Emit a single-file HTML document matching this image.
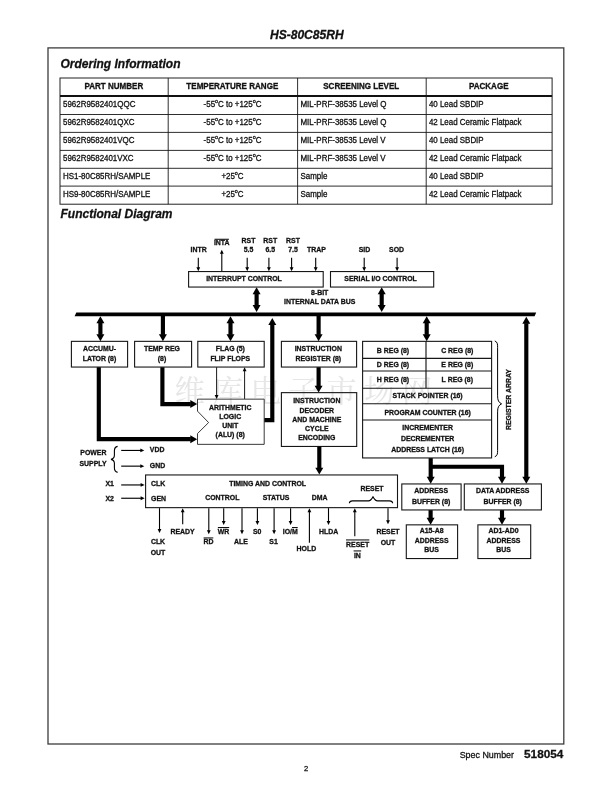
<!DOCTYPE html>
<html lang="en"><head><meta charset="utf-8"><title>HS-80C85RH</title>
<style>html,body{margin:0;padding:0;background:#fff}body{width:612px;height:792px;overflow:hidden}svg{display:block;filter:grayscale(1)}text{font-family:'Liberation Sans', sans-serif;fill:#111;stroke:#111;stroke-width:0.28px}</style>
</head><body>
<svg width="612" height="792" viewBox="0 0 612 792">
<rect width="612" height="792" fill="#fff"/>
<text x="174.6" y="402.2" font-size="30.5" text-anchor="start" letter-spacing="7.4" style="font-family:'Noto Serif CJK SC','Noto Sans CJK SC',serif;fill:#e6e6e6;stroke:none;font-weight:400">维库电子市场网</text>
<text transform="translate(306.8 38.8) scale(1 1.0)" font-size="12.05" font-weight="bold" font-style="italic" text-anchor="middle">HS-80C85RH</text>
<rect x="48.0" y="47.9" width="515.80" height="696.10" fill="none" stroke="#3c3c3c" stroke-width="1.3"/>
<text transform="translate(60.5 68.4) scale(1 1.0)" font-size="12.0" font-weight="bold" font-style="italic" text-anchor="start">Ordering Information</text>
<text transform="translate(60.5 217.6) scale(1 1.0)" font-size="12.0" font-weight="bold" font-style="italic" text-anchor="start">Functional Diagram</text>
<rect x="60.0" y="78.0" width="492.10" height="126.20" fill="none" stroke="#222" stroke-width="1.0"/>
<line x1="168.2" y1="78.0" x2="168.2" y2="204.2" stroke="#161616" stroke-width="0.9"/>
<line x1="297.6" y1="78.0" x2="297.6" y2="204.2" stroke="#161616" stroke-width="0.9"/>
<line x1="426.2" y1="78.0" x2="426.2" y2="204.2" stroke="#161616" stroke-width="0.9"/>
<line x1="60.0" y1="95.9" x2="552.1" y2="95.9" stroke="#111" stroke-width="2.0"/>
<line x1="60.0" y1="114.5" x2="552.1" y2="114.5" stroke="#161616" stroke-width="0.9"/>
<line x1="60.0" y1="132.4" x2="552.1" y2="132.4" stroke="#161616" stroke-width="0.9"/>
<line x1="60.0" y1="150.4" x2="552.1" y2="150.4" stroke="#161616" stroke-width="0.9"/>
<line x1="60.0" y1="168.3" x2="552.1" y2="168.3" stroke="#161616" stroke-width="0.9"/>
<line x1="60.0" y1="186.1" x2="552.1" y2="186.1" stroke="#161616" stroke-width="0.9"/>
<text transform="translate(113.8 89.1) scale(1 1.07)" font-size="8.05" font-weight="bold" font-style="normal" text-anchor="middle">PART NUMBER</text>
<text transform="translate(232.3 89.1) scale(1 1.07)" font-size="8.05" font-weight="bold" font-style="normal" text-anchor="middle">TEMPERATURE RANGE</text>
<text transform="translate(361.2 89.1) scale(1 1.07)" font-size="8.05" font-weight="bold" font-style="normal" text-anchor="middle">SCREENING LEVEL</text>
<text transform="translate(488.7 89.1) scale(1 1.07)" font-size="8.05" font-weight="bold" font-style="normal" text-anchor="middle">PACKAGE</text>
<text transform="translate(63.0 106.7) scale(1 1.07)" font-size="7.95" font-weight="normal" font-style="normal" text-anchor="start" stroke-width="0.1">5962R9582401QQC</text>
<text transform="translate(232.5 106.7) scale(1 1.07)" font-size="7.95" font-weight="normal" font-style="normal" text-anchor="middle" stroke-width="0.1">-55<tspan font-size="5.4" dy="-3.2">o</tspan><tspan dy="3.2">C to +125</tspan><tspan font-size="5.4" dy="-3.2">o</tspan><tspan dy="3.2">C</tspan></text>
<text transform="translate(300.5 106.7) scale(1 1.07)" font-size="7.95" font-weight="normal" font-style="normal" text-anchor="start" stroke-width="0.1">MIL-PRF-38535 Level Q</text>
<text transform="translate(428.9 106.7) scale(1 1.07)" font-size="7.95" font-weight="normal" font-style="normal" text-anchor="start" stroke-width="0.1">40 Lead SBDIP</text>
<text transform="translate(63.0 124.8) scale(1 1.07)" font-size="7.95" font-weight="normal" font-style="normal" text-anchor="start" stroke-width="0.1">5962R9582401QXC</text>
<text transform="translate(232.5 124.8) scale(1 1.07)" font-size="7.95" font-weight="normal" font-style="normal" text-anchor="middle" stroke-width="0.1">-55<tspan font-size="5.4" dy="-3.2">o</tspan><tspan dy="3.2">C to +125</tspan><tspan font-size="5.4" dy="-3.2">o</tspan><tspan dy="3.2">C</tspan></text>
<text transform="translate(300.5 124.8) scale(1 1.07)" font-size="7.95" font-weight="normal" font-style="normal" text-anchor="start" stroke-width="0.1">MIL-PRF-38535 Level Q</text>
<text transform="translate(428.9 124.8) scale(1 1.07)" font-size="7.95" font-weight="normal" font-style="normal" text-anchor="start" stroke-width="0.1">42 Lead Ceramic Flatpack</text>
<text transform="translate(63.0 142.7) scale(1 1.07)" font-size="7.95" font-weight="normal" font-style="normal" text-anchor="start" stroke-width="0.1">5962R9582401VQC</text>
<text transform="translate(232.5 142.7) scale(1 1.07)" font-size="7.95" font-weight="normal" font-style="normal" text-anchor="middle" stroke-width="0.1">-55<tspan font-size="5.4" dy="-3.2">o</tspan><tspan dy="3.2">C to +125</tspan><tspan font-size="5.4" dy="-3.2">o</tspan><tspan dy="3.2">C</tspan></text>
<text transform="translate(300.5 142.7) scale(1 1.07)" font-size="7.95" font-weight="normal" font-style="normal" text-anchor="start" stroke-width="0.1">MIL-PRF-38535 Level V</text>
<text transform="translate(428.9 142.7) scale(1 1.07)" font-size="7.95" font-weight="normal" font-style="normal" text-anchor="start" stroke-width="0.1">40 Lead SBDIP</text>
<text transform="translate(63.0 160.7) scale(1 1.07)" font-size="7.95" font-weight="normal" font-style="normal" text-anchor="start" stroke-width="0.1">5962R9582401VXC</text>
<text transform="translate(232.5 160.7) scale(1 1.07)" font-size="7.95" font-weight="normal" font-style="normal" text-anchor="middle" stroke-width="0.1">-55<tspan font-size="5.4" dy="-3.2">o</tspan><tspan dy="3.2">C to +125</tspan><tspan font-size="5.4" dy="-3.2">o</tspan><tspan dy="3.2">C</tspan></text>
<text transform="translate(300.5 160.7) scale(1 1.07)" font-size="7.95" font-weight="normal" font-style="normal" text-anchor="start" stroke-width="0.1">MIL-PRF-38535 Level V</text>
<text transform="translate(428.9 160.7) scale(1 1.07)" font-size="7.95" font-weight="normal" font-style="normal" text-anchor="start" stroke-width="0.1">42 Lead Ceramic Flatpack</text>
<text transform="translate(63.0 178.5) scale(1 1.07)" font-size="7.95" font-weight="normal" font-style="normal" text-anchor="start" stroke-width="0.1">HS1-80C85RH/SAMPLE</text>
<text transform="translate(232.5 178.5) scale(1 1.07)" font-size="7.95" font-weight="normal" font-style="normal" text-anchor="middle" stroke-width="0.1">+25<tspan font-size="5.4" dy="-3.2">o</tspan><tspan dy="3.2">C</tspan></text>
<text transform="translate(300.5 178.5) scale(1 1.07)" font-size="7.95" font-weight="normal" font-style="normal" text-anchor="start" stroke-width="0.1">Sample</text>
<text transform="translate(428.9 178.5) scale(1 1.07)" font-size="7.95" font-weight="normal" font-style="normal" text-anchor="start" stroke-width="0.1">40 Lead SBDIP</text>
<text transform="translate(63.0 196.6) scale(1 1.07)" font-size="7.95" font-weight="normal" font-style="normal" text-anchor="start" stroke-width="0.1">HS9-80C85RH/SAMPLE</text>
<text transform="translate(232.5 196.6) scale(1 1.07)" font-size="7.95" font-weight="normal" font-style="normal" text-anchor="middle" stroke-width="0.1">+25<tspan font-size="5.4" dy="-3.2">o</tspan><tspan dy="3.2">C</tspan></text>
<text transform="translate(300.5 196.6) scale(1 1.07)" font-size="7.95" font-weight="normal" font-style="normal" text-anchor="start" stroke-width="0.1">Sample</text>
<text transform="translate(428.9 196.6) scale(1 1.07)" font-size="7.95" font-weight="normal" font-style="normal" text-anchor="start" stroke-width="0.1">42 Lead Ceramic Flatpack</text>
<g transform="translate(0 0.35)">
<text transform="translate(198.6 251.9) scale(1 1.07)" font-size="6.93" font-weight="bold" font-style="normal" text-anchor="middle">INTR</text>
<text transform="translate(221.7 244.8) scale(1 1.07)" font-size="6.93" font-weight="bold" font-style="normal" text-anchor="middle">INTA</text>
<line x1="214.6" y1="238.9" x2="228.9" y2="238.9" stroke="#000" stroke-width="1.0"/>
<text transform="translate(248.5 242.7) scale(1 1.07)" font-size="6.93" font-weight="bold" font-style="normal" text-anchor="middle">RST</text>
<text transform="translate(270.2 242.7) scale(1 1.07)" font-size="6.93" font-weight="bold" font-style="normal" text-anchor="middle">RST</text>
<text transform="translate(293.0 242.7) scale(1 1.07)" font-size="6.93" font-weight="bold" font-style="normal" text-anchor="middle">RST</text>
<text transform="translate(248.5 251.9) scale(1 1.07)" font-size="6.93" font-weight="bold" font-style="normal" text-anchor="middle">5.5</text>
<text transform="translate(270.2 251.9) scale(1 1.07)" font-size="6.93" font-weight="bold" font-style="normal" text-anchor="middle">6.5</text>
<text transform="translate(293.0 251.9) scale(1 1.07)" font-size="6.93" font-weight="bold" font-style="normal" text-anchor="middle">7.5</text>
<text transform="translate(316.5 251.9) scale(1 1.07)" font-size="6.93" font-weight="bold" font-style="normal" text-anchor="middle">TRAP</text>
<text transform="translate(364.4 251.9) scale(1 1.07)" font-size="6.93" font-weight="bold" font-style="normal" text-anchor="middle">SID</text>
<text transform="translate(396.6 251.9) scale(1 1.07)" font-size="6.93" font-weight="bold" font-style="normal" text-anchor="middle">SOD</text>
<line x1="198.3" y1="257.4" x2="198.3" y2="268.6" stroke="#000" stroke-width="1.1"/>
<polygon points="198.30,271.00 196.40,267.00 200.20,267.00" fill="#000"/>
<line x1="247.2" y1="257.4" x2="247.2" y2="268.6" stroke="#000" stroke-width="1.1"/>
<polygon points="247.20,271.00 245.30,267.00 249.10,267.00" fill="#000"/>
<line x1="268.9" y1="257.4" x2="268.9" y2="268.6" stroke="#000" stroke-width="1.1"/>
<polygon points="268.90,271.00 267.00,267.00 270.80,267.00" fill="#000"/>
<line x1="291.6" y1="257.4" x2="291.6" y2="268.6" stroke="#000" stroke-width="1.1"/>
<polygon points="291.60,271.00 289.70,267.00 293.50,267.00" fill="#000"/>
<line x1="315.7" y1="257.4" x2="315.7" y2="268.6" stroke="#000" stroke-width="1.1"/>
<polygon points="315.70,271.00 313.80,267.00 317.60,267.00" fill="#000"/>
<line x1="364.2" y1="257.4" x2="364.2" y2="268.6" stroke="#000" stroke-width="1.1"/>
<polygon points="364.20,271.00 362.30,267.00 366.10,267.00" fill="#000"/>
<line x1="397.1" y1="257.4" x2="397.1" y2="268.6" stroke="#000" stroke-width="1.1"/>
<polygon points="397.10,271.00 395.20,267.00 399.00,267.00" fill="#000"/>
<line x1="221.8" y1="271.0" x2="221.8" y2="251.70000000000002" stroke="#000" stroke-width="1.1"/>
<polygon points="221.80,249.30 219.90,253.30 223.70,253.30" fill="#000"/>
<rect x="188.6" y="271.2" width="134.60" height="15.50" fill="none" stroke="#161616" stroke-width="1.1"/>
<text transform="translate(244.0 280.6) scale(1 1.07)" font-size="6.93" font-weight="bold" font-style="normal" text-anchor="middle">INTERRUPT CONTROL</text>
<rect x="330.5" y="271.2" width="103.20" height="15.50" fill="none" stroke="#161616" stroke-width="1.1"/>
<text transform="translate(380.5 280.6) scale(1 1.07)" font-size="6.93" font-weight="bold" font-style="normal" text-anchor="middle">SERIAL I/O CONTROL</text>
<text transform="translate(319.7 294.6) scale(1 1.07)" font-size="6.93" font-weight="bold" font-style="normal" text-anchor="middle">8-BIT</text>
<text transform="translate(319.7 303.7) scale(1 1.07)" font-size="6.93" font-weight="bold" font-style="normal" text-anchor="middle">INTERNAL DATA BUS</text>
<polygon points="76.3,312.1 536.2,312.1 534.6,315.8 74.6,315.8" fill="#000"/>
<rect x="254.53" y="293.30" width="4.15" height="11.90" fill="#000"/>
<polygon points="256.60,286.90 252.60,293.80 260.60,293.80" fill="#000"/>
<polygon points="256.60,311.60 252.60,304.70 260.60,304.70" fill="#000"/>
<rect x="379.62" y="293.30" width="4.15" height="11.90" fill="#000"/>
<polygon points="381.70,286.90 377.70,293.80 385.70,293.80" fill="#000"/>
<polygon points="381.70,311.60 377.70,304.70 385.70,304.70" fill="#000"/>
<rect x="98.33" y="322.30" width="4.15" height="12.20" fill="#000"/>
<polygon points="100.40,315.90 96.40,322.80 104.40,322.80" fill="#000"/>
<polygon points="100.40,340.90 96.40,334.00 104.40,334.00" fill="#000"/>
<rect x="160.83" y="315.00" width="4.15" height="19.50" fill="#000"/>
<polygon points="162.90,340.90 158.90,334.00 166.90,334.00" fill="#000"/>
<rect x="228.43" y="322.30" width="4.15" height="12.20" fill="#000"/>
<polygon points="230.50,315.90 226.50,322.80 234.50,322.80" fill="#000"/>
<polygon points="230.50,340.90 226.50,334.00 234.50,334.00" fill="#000"/>
<rect x="316.53" y="315.00" width="4.15" height="19.50" fill="#000"/>
<polygon points="318.60,340.90 314.60,334.00 322.60,334.00" fill="#000"/>
<rect x="424.62" y="322.30" width="4.15" height="12.20" fill="#000"/>
<polygon points="426.70,315.90 422.70,322.80 430.70,322.80" fill="#000"/>
<polygon points="426.70,340.90 422.70,334.00 430.70,334.00" fill="#000"/>
<rect x="71.4" y="341.0" width="56.20" height="25.70" fill="none" stroke="#161616" stroke-width="1.1"/>
<text transform="translate(99.5 351.0) scale(1 1.07)" font-size="6.93" font-weight="bold" font-style="normal" text-anchor="middle">ACCUMU-</text>
<text transform="translate(99.5 360.7) scale(1 1.07)" font-size="6.93" font-weight="bold" font-style="normal" text-anchor="middle">LATOR (8)</text>
<rect x="134.6" y="341.0" width="57.00" height="25.70" fill="none" stroke="#161616" stroke-width="1.1"/>
<text transform="translate(162.0 351.0) scale(1 1.07)" font-size="6.93" font-weight="bold" font-style="normal" text-anchor="middle">TEMP REG</text>
<text transform="translate(162.0 360.7) scale(1 1.07)" font-size="6.93" font-weight="bold" font-style="normal" text-anchor="middle">(8)</text>
<rect x="197.8" y="341.0" width="66.40" height="25.70" fill="none" stroke="#161616" stroke-width="1.1"/>
<text transform="translate(230.3 351.0) scale(1 1.07)" font-size="6.93" font-weight="bold" font-style="normal" text-anchor="middle">FLAG (5)</text>
<text transform="translate(230.3 360.7) scale(1 1.07)" font-size="6.93" font-weight="bold" font-style="normal" text-anchor="middle">FLIP FLOPS</text>
<rect x="281.4" y="341.0" width="75.20" height="25.70" fill="none" stroke="#161616" stroke-width="1.1"/>
<text transform="translate(318.3 351.0) scale(1 1.07)" font-size="6.93" font-weight="bold" font-style="normal" text-anchor="middle">INSTRUCTION</text>
<text transform="translate(318.3 360.7) scale(1 1.07)" font-size="6.93" font-weight="bold" font-style="normal" text-anchor="middle">REGISTER (8)</text>
<rect x="362.6" y="341.0" width="129.00" height="116.60" fill="none" stroke="#161616" stroke-width="1.1"/>
<line x1="362.6" y1="358.0" x2="491.6" y2="358.0" stroke="#161616" stroke-width="1.15"/>
<line x1="362.6" y1="370.6" x2="491.6" y2="370.6" stroke="#161616" stroke-width="1.15"/>
<line x1="362.6" y1="387.9" x2="491.6" y2="387.9" stroke="#161616" stroke-width="1.15"/>
<line x1="362.6" y1="403.4" x2="491.6" y2="403.4" stroke="#161616" stroke-width="1.15"/>
<line x1="362.6" y1="419.6" x2="491.6" y2="419.6" stroke="#161616" stroke-width="1.15"/>
<line x1="426.0" y1="341.0" x2="426.0" y2="387.9" stroke="#161616" stroke-width="1.15"/>
<text transform="translate(393.0 352.3) scale(1 1.07)" font-size="6.93" font-weight="bold" font-style="normal" text-anchor="middle">B REG (8)</text>
<text transform="translate(457.3 352.3) scale(1 1.07)" font-size="6.93" font-weight="bold" font-style="normal" text-anchor="middle">C REG (8)</text>
<text transform="translate(393.0 366.4) scale(1 1.07)" font-size="6.93" font-weight="bold" font-style="normal" text-anchor="middle">D REG (8)</text>
<text transform="translate(457.3 366.4) scale(1 1.07)" font-size="6.93" font-weight="bold" font-style="normal" text-anchor="middle">E REG (8)</text>
<text transform="translate(393.0 381.3) scale(1 1.07)" font-size="6.93" font-weight="bold" font-style="normal" text-anchor="middle">H REG (8)</text>
<text transform="translate(457.3 381.3) scale(1 1.07)" font-size="6.93" font-weight="bold" font-style="normal" text-anchor="middle">L REG (8)</text>
<text transform="translate(427.6 397.8) scale(1 1.07)" font-size="6.93" font-weight="bold" font-style="normal" text-anchor="middle">STACK POINTER (16)</text>
<text transform="translate(427.6 414.8) scale(1 1.07)" font-size="6.93" font-weight="bold" font-style="normal" text-anchor="middle">PROGRAM COUNTER (16)</text>
<text transform="translate(427.6 429.7) scale(1 1.07)" font-size="6.93" font-weight="bold" font-style="normal" text-anchor="middle">INCREMENTER</text>
<text transform="translate(427.6 440.7) scale(1 1.07)" font-size="6.93" font-weight="bold" font-style="normal" text-anchor="middle">DECREMENTER</text>
<text transform="translate(427.6 451.9) scale(1 1.07)" font-size="6.93" font-weight="bold" font-style="normal" text-anchor="middle">ADDRESS LATCH (16)</text>
<path d="M494.8,340.6 C497.6,341.6 497.6,344 497.6,347 L497.6,395.5 C497.6,400 498.6,402.1 501.6,403.5 C498.6,404.9 497.6,407 497.6,411.5 L497.6,450 C497.6,453 497.6,455.4 494.8,456.4" fill="none" stroke="#000" stroke-width="1.0"/>
<text transform="translate(511.3,399.2) rotate(-90) scale(1 1.07)" font-size="6.93" font-weight="bold" text-anchor="middle">REGISTER ARRAY</text>
<line x1="216.6" y1="366.9" x2="216.6" y2="396.20000000000005" stroke="#000" stroke-width="0.9"/>
<polygon points="216.60,398.60 214.70,394.60 218.50,394.60" fill="#000"/>
<line x1="244.6" y1="398.6" x2="244.6" y2="369.29999999999995" stroke="#000" stroke-width="0.9"/>
<polygon points="244.60,366.90 242.70,370.90 246.50,370.90" fill="#000"/>
<path d="M197.5,398.8 L264.2,398.8 L264.2,444 L197.5,444 L197.5,433.2 L208.6,422.2 L197.5,410.8 Z" fill="none" stroke="#222" stroke-width="0.9"/>
<text transform="translate(230.2 410.0) scale(1 1.07)" font-size="6.93" font-weight="bold" font-style="normal" text-anchor="middle">ARITHMETIC</text>
<text transform="translate(230.2 418.8) scale(1 1.07)" font-size="6.93" font-weight="bold" font-style="normal" text-anchor="middle">LOGIC</text>
<text transform="translate(230.2 427.3) scale(1 1.07)" font-size="6.93" font-weight="bold" font-style="normal" text-anchor="middle">UNIT</text>
<text transform="translate(230.2 436.9) scale(1 1.07)" font-size="6.93" font-weight="bold" font-style="normal" text-anchor="middle">(ALU) (8)</text>
<polygon points="197.20,403.70 190.30,399.70 190.30,407.70" fill="#000"/>
<polyline points="162.40,366.90 162.40,403.70 190.80,403.70" fill="none" stroke="#000" stroke-width="4.15" stroke-linejoin="miter"/>
<polygon points="197.20,438.80 190.30,434.80 190.30,442.80" fill="#000"/>
<polyline points="98.80,366.90 98.80,438.80 190.80,438.80" fill="none" stroke="#000" stroke-width="4.15" stroke-linejoin="miter"/>
<polygon points="272.30,317.70 268.30,324.60 276.30,324.60" fill="#000"/>
<polyline points="264.40,419.70 272.30,419.70 272.30,324.10" fill="none" stroke="#000" stroke-width="4.15" stroke-linejoin="miter"/>
<rect x="316.53" y="366.90" width="4.15" height="18.90" fill="#000"/>
<polygon points="318.60,392.20 314.60,385.30 322.60,385.30" fill="#000"/>
<rect x="281.4" y="392.3" width="75.30" height="53.80" fill="none" stroke="#161616" stroke-width="1.1"/>
<text transform="translate(316.8 402.2) scale(1 1.07)" font-size="6.93" font-weight="bold" font-style="normal" text-anchor="middle">INSTRUCTION</text>
<text transform="translate(316.8 412.7) scale(1 1.07)" font-size="6.93" font-weight="bold" font-style="normal" text-anchor="middle">DECODER</text>
<text transform="translate(316.8 421.8) scale(1 1.07)" font-size="6.93" font-weight="bold" font-style="normal" text-anchor="middle">AND MACHINE</text>
<text transform="translate(316.8 431.0) scale(1 1.07)" font-size="6.93" font-weight="bold" font-style="normal" text-anchor="middle">CYCLE</text>
<text transform="translate(316.8 440.1) scale(1 1.07)" font-size="6.93" font-weight="bold" font-style="normal" text-anchor="middle">ENCODING</text>
<rect x="317.23" y="446.30" width="4.15" height="21.50" fill="#000"/>
<polygon points="319.30,474.20 315.30,467.30 323.30,467.30" fill="#000"/>
<text transform="translate(93.4 454.5) scale(1 1.07)" font-size="6.93" font-weight="bold" font-style="normal" text-anchor="middle">POWER</text>
<text transform="translate(93.0 465.8) scale(1 1.07)" font-size="6.93" font-weight="bold" font-style="normal" text-anchor="middle">SUPPLY</text>
<path d="M117.6,446 C114.4,446.6 114.4,448.4 114.4,450.5 L114.4,455 C114.4,457.4 113.6,458.4 111,459 C113.6,459.6 114.4,460.6 114.4,463 L114.4,467.5 C114.4,469.6 114.4,471.4 117.6,472" fill="none" stroke="#000" stroke-width="1.1"/>
<line x1="121.2" y1="450.1" x2="141.9" y2="450.1" stroke="#000" stroke-width="1.15"/>
<polygon points="144.30,450.10 140.30,448.20 140.30,452.00" fill="#000"/>
<line x1="121.2" y1="465.8" x2="141.9" y2="465.8" stroke="#000" stroke-width="1.15"/>
<polygon points="144.30,465.80 140.30,463.90 140.30,467.70" fill="#000"/>
<text transform="translate(149.8 452.0) scale(1 1.07)" font-size="6.93" font-weight="bold" font-style="normal" text-anchor="start">VDD</text>
<text transform="translate(149.8 467.6) scale(1 1.07)" font-size="6.93" font-weight="bold" font-style="normal" text-anchor="start">GND</text>
<rect x="145.6" y="474.6" width="251.90" height="32.70" fill="none" stroke="#161616" stroke-width="1.1"/>
<text transform="translate(105.4 485.6) scale(1 1.07)" font-size="6.93" font-weight="bold" font-style="normal" text-anchor="start">X1</text>
<text transform="translate(105.4 500.5) scale(1 1.07)" font-size="6.93" font-weight="bold" font-style="normal" text-anchor="start">X2</text>
<line x1="121.2" y1="484.6" x2="142.2" y2="484.6" stroke="#000" stroke-width="1.15"/>
<polygon points="144.60,484.60 140.60,482.70 140.60,486.50" fill="#000"/>
<line x1="121.2" y1="497.9" x2="142.2" y2="497.9" stroke="#000" stroke-width="1.15"/>
<polygon points="144.60,497.90 140.60,496.00 140.60,499.80" fill="#000"/>
<text transform="translate(151.1 485.6) scale(1 1.07)" font-size="6.93" font-weight="bold" font-style="normal" text-anchor="start">CLK</text>
<text transform="translate(151.1 500.5) scale(1 1.07)" font-size="6.93" font-weight="bold" font-style="normal" text-anchor="start">GEN</text>
<text transform="translate(267.6 485.6) scale(1 1.07)" font-size="6.93" font-weight="bold" font-style="normal" text-anchor="middle">TIMING AND CONTROL</text>
<text transform="translate(222.3 499.7) scale(1 1.07)" font-size="6.93" font-weight="bold" font-style="normal" text-anchor="middle">CONTROL</text>
<text transform="translate(276.0 499.7) scale(1 1.07)" font-size="6.93" font-weight="bold" font-style="normal" text-anchor="middle">STATUS</text>
<text transform="translate(319.6 499.7) scale(1 1.07)" font-size="6.93" font-weight="bold" font-style="normal" text-anchor="middle">DMA</text>
<text transform="translate(372.0 490.6) scale(1 1.07)" font-size="6.93" font-weight="bold" font-style="normal" text-anchor="middle">RESET</text>
<path d="M349.3,502.9 C349.5,500.8 350.4,500.5 352.5,500.5 L368.6,500.5 C370.2,500.5 371.2,499.6 373,496.5 C374.8,499.6 375.8,500.5 377.4,500.5 L389.5,500.5 C391.6,500.5 392.5,500.8 392.7,502.9" fill="none" stroke="#000" stroke-width="1.1"/>
<line x1="159.5" y1="507.8" x2="159.5" y2="530.3000000000001" stroke="#000" stroke-width="1.1"/>
<polygon points="159.50,532.70 157.60,528.70 161.40,528.70" fill="#000"/>
<line x1="182.7" y1="524.0" x2="182.7" y2="510.4" stroke="#000" stroke-width="1.1"/>
<polygon points="182.70,508.00 180.80,512.00 184.60,512.00" fill="#000"/>
<line x1="208.8" y1="507.8" x2="208.8" y2="531.6" stroke="#000" stroke-width="1.1"/>
<polygon points="208.80,534.00 206.90,530.00 210.70,530.00" fill="#000"/>
<line x1="223.7" y1="507.8" x2="223.7" y2="522.2" stroke="#000" stroke-width="1.1"/>
<polygon points="223.70,524.60 221.80,520.60 225.60,520.60" fill="#000"/>
<line x1="242.0" y1="507.8" x2="242.0" y2="531.6" stroke="#000" stroke-width="1.1"/>
<polygon points="242.00,534.00 240.10,530.00 243.90,530.00" fill="#000"/>
<line x1="257.4" y1="507.8" x2="257.4" y2="522.2" stroke="#000" stroke-width="1.1"/>
<polygon points="257.40,524.60 255.50,520.60 259.30,520.60" fill="#000"/>
<line x1="274.1" y1="507.8" x2="274.1" y2="531.6" stroke="#000" stroke-width="1.1"/>
<polygon points="274.10,534.00 272.20,530.00 276.00,530.00" fill="#000"/>
<line x1="290.6" y1="507.8" x2="290.6" y2="522.2" stroke="#000" stroke-width="1.1"/>
<polygon points="290.60,524.60 288.70,520.60 292.50,520.60" fill="#000"/>
<line x1="309.4" y1="542.4" x2="309.4" y2="510.4" stroke="#000" stroke-width="1.1"/>
<polygon points="309.40,508.00 307.50,512.00 311.30,512.00" fill="#000"/>
<line x1="328.5" y1="507.8" x2="328.5" y2="522.2" stroke="#000" stroke-width="1.1"/>
<polygon points="328.50,524.60 326.60,520.60 330.40,520.60" fill="#000"/>
<line x1="354.8" y1="535.8" x2="354.8" y2="510.4" stroke="#000" stroke-width="1.1"/>
<polygon points="354.80,508.00 352.90,512.00 356.70,512.00" fill="#000"/>
<line x1="388.0" y1="507.8" x2="388.0" y2="521.6" stroke="#000" stroke-width="1.1"/>
<polygon points="388.00,524.00 386.10,520.00 389.90,520.00" fill="#000"/>
<text transform="translate(158.0 543.7) scale(1 1.07)" font-size="6.93" font-weight="bold" font-style="normal" text-anchor="middle">CLK</text>
<text transform="translate(158.0 554.6) scale(1 1.07)" font-size="6.93" font-weight="bold" font-style="normal" text-anchor="middle">OUT</text>
<text transform="translate(182.5 533.2) scale(1 1.07)" font-size="6.93" font-weight="bold" font-style="normal" text-anchor="middle">READY</text>
<text transform="translate(208.4 543.7) scale(1 1.07)" font-size="6.93" font-weight="bold" font-style="normal" text-anchor="middle">RD</text>
<line x1="203.6" y1="537.6" x2="213.3" y2="537.6" stroke="#000" stroke-width="1.0"/>
<text transform="translate(223.5 533.2) scale(1 1.07)" font-size="6.93" font-weight="bold" font-style="normal" text-anchor="middle">WR</text>
<line x1="217.9" y1="527.2" x2="229.2" y2="527.2" stroke="#000" stroke-width="1.0"/>
<text transform="translate(240.9 543.7) scale(1 1.07)" font-size="6.93" font-weight="bold" font-style="normal" text-anchor="middle">ALE</text>
<text transform="translate(257.1 533.2) scale(1 1.07)" font-size="6.93" font-weight="bold" font-style="normal" text-anchor="middle">S0</text>
<text transform="translate(273.5 543.7) scale(1 1.07)" font-size="6.93" font-weight="bold" font-style="normal" text-anchor="middle">S1</text>
<text transform="translate(290.2 533.2) scale(1 1.07)" font-size="6.93" font-weight="bold" font-style="normal" text-anchor="middle">IO/M</text>
<line x1="292.0" y1="527.2" x2="297.7" y2="527.2" stroke="#000" stroke-width="1.0"/>
<text transform="translate(306.4 550.7) scale(1 1.07)" font-size="6.93" font-weight="bold" font-style="normal" text-anchor="middle">HOLD</text>
<text transform="translate(328.7 533.2) scale(1 1.07)" font-size="6.93" font-weight="bold" font-style="normal" text-anchor="middle">HLDA</text>
<text transform="translate(357.6 546.7) scale(1 1.07)" font-size="6.93" font-weight="bold" font-style="normal" text-anchor="middle">RESET</text>
<line x1="346.0" y1="539.6" x2="369.3" y2="539.6" stroke="#000" stroke-width="1.0"/>
<text transform="translate(357.4 557.4) scale(1 1.07)" font-size="6.93" font-weight="bold" font-style="normal" text-anchor="middle">IN</text>
<line x1="353.6" y1="550.6" x2="361.2" y2="550.6" stroke="#000" stroke-width="1.0"/>
<text transform="translate(388.0 533.7) scale(1 1.07)" font-size="6.93" font-weight="bold" font-style="normal" text-anchor="middle">RESET</text>
<text transform="translate(388.0 544.4) scale(1 1.07)" font-size="6.93" font-weight="bold" font-style="normal" text-anchor="middle">OUT</text>
<polygon points="430.70,483.30 426.70,476.40 434.70,476.40" fill="#000"/>
<polyline points="430.70,457.80 430.70,476.90" fill="none" stroke="#000" stroke-width="4.15" stroke-linejoin="miter"/>
<polygon points="502.00,483.30 498.00,476.40 506.00,476.40" fill="#000"/>
<polyline points="430.70,466.40 502.00,466.40 502.00,476.90" fill="none" stroke="#000" stroke-width="4.15" stroke-linejoin="miter"/>
<polygon points="526.30,483.30 522.30,476.40 530.30,476.40" fill="#000"/>
<polygon points="526.30,316.40 522.30,323.30 530.30,323.30" fill="#000"/>
<polyline points="526.30,322.80 526.30,476.90" fill="none" stroke="#000" stroke-width="4.15" stroke-linejoin="miter"/>
<rect x="401.8" y="483.6" width="59.30" height="26.00" fill="none" stroke="#161616" stroke-width="1.1"/>
<text transform="translate(431.1 492.2) scale(1 1.07)" font-size="6.93" font-weight="bold" font-style="normal" text-anchor="middle">ADDRESS</text>
<text transform="translate(431.1 503.5) scale(1 1.07)" font-size="6.93" font-weight="bold" font-style="normal" text-anchor="middle">BUFFER (8)</text>
<rect x="464.3" y="483.6" width="77.10" height="26.00" fill="none" stroke="#161616" stroke-width="1.1"/>
<text transform="translate(502.7 492.2) scale(1 1.07)" font-size="6.93" font-weight="bold" font-style="normal" text-anchor="middle">DATA ADDRESS</text>
<text transform="translate(502.7 503.5) scale(1 1.07)" font-size="6.93" font-weight="bold" font-style="normal" text-anchor="middle">BUFFER (8)</text>
<rect x="428.53" y="509.80" width="4.15" height="8.10" fill="#000"/>
<polygon points="430.60,524.30 426.60,517.40 434.60,517.40" fill="#000"/>
<rect x="499.93" y="509.80" width="4.15" height="8.10" fill="#000"/>
<polygon points="502.00,524.30 498.00,517.40 506.00,517.40" fill="#000"/>
<rect x="406.3" y="524.5" width="51.30" height="33.70" fill="none" stroke="#161616" stroke-width="1.1"/>
<text transform="translate(431.6 533.0) scale(1 1.07)" font-size="6.93" font-weight="bold" font-style="normal" text-anchor="middle">A15-A8</text>
<text transform="translate(431.6 542.3) scale(1 1.07)" font-size="6.93" font-weight="bold" font-style="normal" text-anchor="middle">ADDRESS</text>
<text transform="translate(431.6 552.0) scale(1 1.07)" font-size="6.93" font-weight="bold" font-style="normal" text-anchor="middle">BUS</text>
<rect x="477.9" y="524.5" width="52.80" height="33.70" fill="none" stroke="#161616" stroke-width="1.1"/>
<text transform="translate(503.5 533.0) scale(1 1.07)" font-size="6.93" font-weight="bold" font-style="normal" text-anchor="middle">AD1-AD0</text>
<text transform="translate(503.5 542.3) scale(1 1.07)" font-size="6.93" font-weight="bold" font-style="normal" text-anchor="middle">ADDRESS</text>
<text transform="translate(503.5 552.0) scale(1 1.07)" font-size="6.93" font-weight="bold" font-style="normal" text-anchor="middle">BUS</text>
</g>
<text transform="translate(459.7 758.3) scale(1 1.0)" font-size="8.9" font-weight="normal" font-style="normal" text-anchor="start" stroke-width="0.1">Spec Number</text>
<text transform="translate(563.4 758.3) scale(1 0.9)" font-size="11.8" font-weight="bold" font-style="normal" text-anchor="end">518054</text>
<text transform="translate(306.0 770.6) scale(1 1.0)" font-size="7.6" font-weight="normal" font-style="normal" text-anchor="middle" stroke-width="0.1">2</text>
</svg></body></html>
